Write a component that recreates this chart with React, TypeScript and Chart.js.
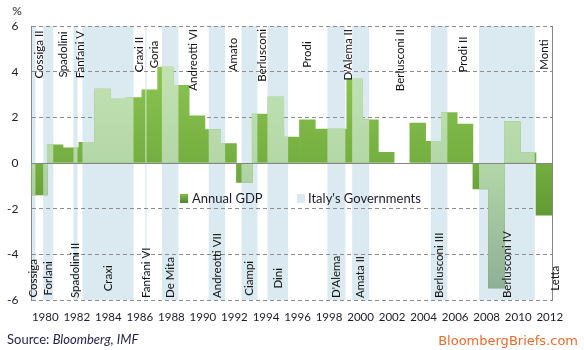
import { useEffect, useRef } from "react";
import { Chart, registerables } from "chart.js";

Chart.register(...registerables);

// ---------- data ----------
const gdpYears = [
  1979, 1980, 1981, 1982, 1983, 1984, 1985, 1986, 1987, 1988, 1989, 1990,
  1991, 1992, 1993, 1994, 1995, 1996, 1997, 1998, 1999, 2000, 2001, 2002,
  2003, 2004, 2005, 2006, 2007, 2008, 2009, 2010, 2011, 2012,
];
const gdpValues = [
  -1.4, 0.8, 0.66, 0.9, 3.24, 2.8, 2.87, 3.2, 4.2, 3.4, 2.07, 1.46,
  0.85, -0.85, 2.14, 2.89, 1.14, 1.89, 1.49, 1.49, 3.67, 1.89, 0.47, -0.03,
  1.75, 0.95, 2.21, 1.7, -1.14, -5.47, 1.81, 0.44, -2.29, -0.73,
];

const govNames = [
  "Cossiga", "Cossiga II", "Forlani", "Spadolini", "Spadolini II", "Fanfani V",
  "Craxi", "Craxi II", "Fanfani VI", "Goria", "De Mita", "Andreotti VI",
  "Andreotti VII", "Amato", "Ciampi", "Berlusconi", "Dini", "Prodi",
  "D'Alema", "D'Alema II", "Amata II", "Berlusconi II", "Berlusconi III",
  "Prodi II", "Berlusconi IV", "Monti", "Letta",
];
const govStarts = [
  1978.62, 1979.25, 1979.74, 1980.38, 1981.66, 1981.92,
  1982.23, 1985.47, 1986.21, 1986.3, 1987.27, 1988.32,
  1990.24, 1991.28, 1992.32, 1993.33, 1993.97, 1995.28,
  1997.77, 1998.91, 1999.34, 2000.42, 2004.33,
  2005.38, 2007.39, 2010.92, 2012.15,
];
const govLastEnd = 2012.3;

const tickYears = [
  1980, 1982, 1984, 1986, 1988, 1990, 1992, 1994, 1996, 1998, 2000, 2002,
  2004, 2006, 2008, 2010, 2012,
];
const yTicks = [-6, -4, -2, 0, 2, 4, 6];

// ---------- styles ----------
const FONT = "Lato, 'Open Sans', sans-serif";
const TEXT = "#1b1b2b";
const BAND = "#dbeaf1";
const AXIS = "#868686";

const X_MIN = 1979;
const X_MAX = 2012.08;

function govEnd(i: number) {
  return i + 1 < govStarts.length ? govStarts[i + 1] : govLastEnd;
}

function grad(ctx: CanvasRenderingContext2D, a: any, stops: string[]) {
  const g = ctx.createLinearGradient(0, a.top, 0, a.bottom);
  g.addColorStop(0, stops[0]);
  g.addColorStop(0.5, stops[1]);
  g.addColorStop(1, stops[2]);
  return g;
}

const DARK = ["rgb(150,206,90)", "rgb(116,174,64)", "rgb(70,120,36)"];
const LIGHT = ["rgb(200,230,182)", "rgb(180,215,168)", "rgb(140,172,148)"];

function bandRectsPath(chart: any) {
  const { ctx, chartArea: a, scales } = chart;
  const x = scales.x;
  ctx.beginPath();
  govNames.forEach((_, i) => {
    if (i % 2 !== 0) return;
    const s = Math.max(govStarts[i], X_MIN);
    const e = Math.min(govEnd(i), X_MAX);
    if (e <= s) return;
    const l = x.getPixelForValue(s);
    const r = x.getPixelForValue(e);
    ctx.rect(l, a.top, r - l, a.bottom - a.top);
  });
}

const govPlugin = {
  id: "govPlugin",
  beforeDraw(chart: any) {
    const { ctx, chartArea: a } = chart;
    ctx.save();
    ctx.beginPath();
    ctx.rect(a.left, a.top, a.right - a.left, a.bottom - a.top);
    ctx.clip();
    bandRectsPath(chart);
    ctx.fillStyle = BAND;
    ctx.fill();
    ctx.restore();
  },
  beforeDatasetDraw(chart: any, args: any) {
    if (args.index !== 1) return;
    const { ctx } = chart;
    ctx.save();
    bandRectsPath(chart);
    ctx.clip();
  },
  afterDatasetDraw(chart: any, args: any) {
    if (args.index !== 1) return;
    chart.ctx.restore();
  },
  afterDatasetsDraw(chart: any) {
    const { ctx, chartArea: a, scales } = chart;
    const x = scales.x;
    const y = scales.y;
    ctx.save();
    // zero line and right border
    ctx.strokeStyle = AXIS;
    ctx.lineWidth = 1;
    const y0 = Math.round(y.getPixelForValue(0)) + 0.5;
    ctx.beginPath();
    ctx.moveTo(a.left, y0);
    ctx.lineTo(a.right, y0);
    ctx.stroke();
    const rx = Math.round(a.right) - 0.5;
    ctx.beginPath();
    ctx.moveTo(rx, a.top);
    ctx.lineTo(rx, a.bottom);
    ctx.stroke();

    // government labels
    ctx.font = `11.5px ${FONT}`;
    ctx.fillStyle = "#111";
    ctx.textAlign = "center";
    ctx.textBaseline = "middle";
    govNames.forEach((name, i) => {
      const s = Math.max(govStarts[i], X_MIN);
      const e = govEnd(i);
      const px = x.getPixelForValue((s + e) / 2);
      const w = ctx.measureText(name).width;
      const top = i % 2 === 1;
      let cy = y.getPixelForValue(top ? 4.75 : -5.05);
      if (top) cy = Math.max(cy, a.top + 3 + w / 2);
      else cy = Math.min(cy, a.bottom - 2 - w / 2);
      ctx.save();
      ctx.translate(px, cy);
      ctx.rotate(-Math.PI / 2);
      ctx.fillText(name, 0, 0);
      ctx.restore();
    });

    // legend
    const ly = 198.5;
    const g = ctx.createLinearGradient(0, ly - 4.5, 0, ly + 4.5);
    g.addColorStop(0, "rgb(130,190,80)");
    g.addColorStop(1, "rgb(80,130,45)");
    ctx.fillStyle = g;
    ctx.fillRect(180, ly - 4.5, 8, 9);
    ctx.fillStyle = BAND;
    ctx.fillRect(297, ly - 4.5, 8, 9);
    ctx.font = `13px ${FONT}`;
    ctx.fillStyle = TEXT;
    ctx.textAlign = "left";
    ctx.textBaseline = "middle";
    ctx.fillText("Annual GDP", 192, ly);
    ctx.fillText("Italy's Governments", 308, ly);

    // unit label
    ctx.font = `12px ${FONT}`;
    ctx.fillStyle = TEXT;
    ctx.textAlign = "center";
    ctx.fillText("%", 17, 11);
    ctx.restore();
  },
};

export default function App() {
  const ref = useRef<HTMLCanvasElement | null>(null);

  useEffect(() => {
    document.body.style.margin = "0";
    const canvas = ref.current;
    if (!canvas) return;
    const points = gdpYears.map((yr, i) => ({ x: yr + 0.5, y: gdpValues[i] }));
    const bg = (stops: string[]) => (c: any) => {
      const chart = c.chart;
      const a = chart.chartArea;
      if (!a) return stops[1];
      return grad(chart.ctx, a, stops);
    };
    const chart = new Chart(canvas, {
      type: "bar",
      data: {
        datasets: [
          {
            label: "Annual GDP",
            data: points,
            backgroundColor: bg(DARK),
            borderWidth: 0,
            barPercentage: 1,
            categoryPercentage: 1,
            grouped: false,
            order: 2,
          } as any,
          {
            label: "Annual GDP (in government period)",
            data: points,
            backgroundColor: bg(LIGHT),
            borderWidth: 0,
            barPercentage: 1,
            categoryPercentage: 1,
            grouped: false,
            order: 1,
          } as any,
        ],
      },
      options: {
        animation: false,
        responsive: false,
        maintainAspectRatio: false,
        layout: { padding: { top: 26, right: 31, left: 0, bottom: 0 } },
        plugins: {
          legend: { display: false },
          tooltip: { enabled: false },
        },
        scales: {
          x: {
            type: "linear",
            min: X_MIN,
            max: X_MAX,
            offset: false,
            grid: { display: false, drawTicks: false, offset: false },
            border: { display: false },
            afterBuildTicks: (s: any) => {
              s.ticks = tickYears.map((value) => ({ value }));
            },
            afterFit: (s: any) => {
              s.height = 50;
            },
            ticks: {
              callback: (v: any) => String(v),
              autoSkip: false,
              maxRotation: 0,
              minRotation: 0,
              padding: 10,
              labelOffset: -2,
              color: TEXT,
              font: { family: FONT, size: 11.5 },
            },
          },
          y: {
            min: -6,
            max: 6,
            afterBuildTicks: (s: any) => {
              s.ticks = yTicks.map((value) => ({ value }));
            },
            afterFit: (s: any) => {
              s.width = 31.5;
            },
            grid: {
              color: "#8c8c8c",
              lineWidth: 1,
              drawTicks: false,
            },
            border: {
              display: true,
              color: AXIS,
              width: 1,
              dash: (c: any) => (c.tick && c.tick.value === 0 ? [] : [4, 3]),
            },
            ticks: {
              padding: 13,
              color: TEXT,
              font: { family: FONT, size: 12 },
            },
          },
        },
      } as any,
      plugins: [govPlugin],
    });
    return () => chart.destroy();
  }, []);

  return (
    <div style={{ position: "relative", width: 584, height: 350, background: "#fff" }}>
      <canvas ref={ref} width={584} height={350} style={{ display: "block", width: 584, height: 350 }} />
      <div
        style={{
          position: "absolute",
          left: 7,
          top: 331,
          fontFamily: FONT,
          fontSize: 13,
          lineHeight: "16px",
          color: "#1f1f4a",
          whiteSpace: "nowrap",
        }}
      >
        Source: <i>Bloomberg, IMF</i>
      </div>
      <div
        style={{
          position: "absolute",
          right: 6,
          top: 333,
          fontFamily: "'DejaVu Sans', sans-serif",
          fontSize: 13,
          lineHeight: "16px",
          color: "#ec6a2c",
          whiteSpace: "nowrap",
        }}
      >
        BloombergBriefs.com
      </div>
    </div>
  );
}
